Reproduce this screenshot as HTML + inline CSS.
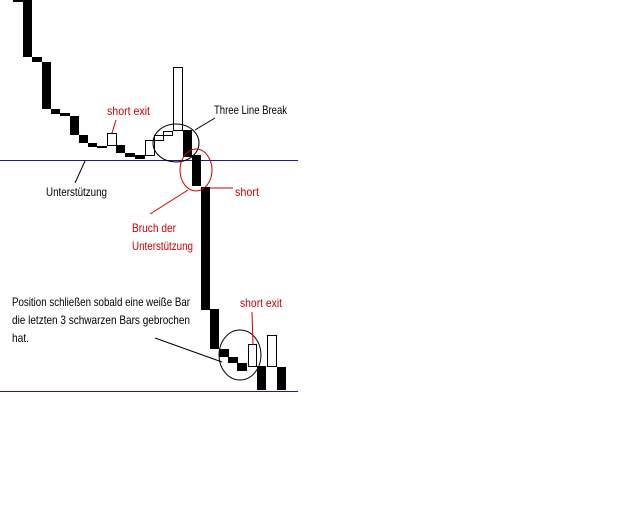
<!DOCTYPE html>
<html><head><style>html,body{margin:0;padding:0;background:#fff;width:640px;height:512px;overflow:hidden}</style></head>
<body>
<svg width="640" height="512" viewBox="0 0 640 512" xmlns="http://www.w3.org/2000/svg" font-family="Liberation Sans, sans-serif" font-size="12">
<rect width="640" height="512" fill="#fff"/>
<!-- support lines -->
<line x1="0" y1="160.5" x2="298" y2="160.5" stroke="#1a1a9a" stroke-width="1"/>
<line x1="0" y1="391.5" x2="298" y2="391.5" stroke="#1a1a9a" stroke-width="1"/>
<g fill="#000">
<rect x="13" y="0" width="10" height="2"/>
<rect x="23" y="0" width="9" height="57"/>
<rect x="32" y="57" width="10" height="5"/>
<rect x="42" y="62" width="9" height="47"/>
<rect x="51" y="109" width="9" height="5"/>
<rect x="60" y="113" width="10" height="3"/>
<rect x="70" y="116" width="9" height="19"/>
<rect x="79" y="135" width="9" height="8"/>
<rect x="88" y="143" width="9" height="4"/>
<rect x="97" y="146" width="10" height="2"/>
<rect x="116" y="145" width="9" height="8"/>
<rect x="125" y="153" width="10" height="4"/>
<rect x="135" y="155" width="10" height="4"/>
<rect x="183" y="130" width="9" height="27"/>
<rect x="192" y="155" width="9" height="31"/>
<rect x="201" y="187" width="9" height="123"/>
<rect x="210" y="309" width="9" height="40"/>
<rect x="219" y="349" width="10" height="8"/>
<rect x="228" y="357" width="10" height="6"/>
<rect x="237" y="363" width="10" height="8"/>
<rect x="257" y="366" width="9" height="24"/>
<rect x="277" y="367" width="9" height="23"/>
</g>
<g fill="#fff" stroke="#000" stroke-width="1">
<rect x="107.5" y="133.5" width="9" height="12"/>
<rect x="145.5" y="140.5" width="9" height="15"/>
<rect x="154.5" y="135.5" width="9" height="5"/>
<rect x="163.5" y="131.5" width="9" height="4"/>
<rect x="173.5" y="67.5" width="9" height="63"/>
<rect x="248.5" y="344.5" width="8" height="22"/>
<rect x="267.5" y="335.5" width="9" height="31"/>
</g>
<!-- ellipses -->
<ellipse cx="176" cy="143" rx="23" ry="19" fill="none" stroke="#000"/>
<ellipse cx="196" cy="170" rx="16" ry="21" fill="none" stroke="#c00"/>
<ellipse cx="240" cy="355" rx="21" ry="25" fill="none" stroke="#000"/>
<!-- leader lines -->
<g stroke="#000" fill="none">
<line x1="195" y1="130" x2="215" y2="118"/>
<line x1="85" y1="161" x2="75" y2="183"/>
<line x1="155" y1="338" x2="222" y2="362"/>
</g>
<g stroke="#c00" fill="none">
<line x1="116" y1="120" x2="112" y2="133"/>
<line x1="210" y1="188" x2="233" y2="188"/>
<line x1="188" y1="190" x2="150" y2="214"/>
<line x1="252" y1="312" x2="253" y2="345"/>
</g>
<!-- labels -->
<g fill="#c00">
<text x="107" y="115" textLength="43" lengthAdjust="spacingAndGlyphs">short exit</text>
<text x="235" y="196" textLength="24" lengthAdjust="spacingAndGlyphs">short</text>
<text x="132" y="232" textLength="44" lengthAdjust="spacingAndGlyphs">Bruch der</text>
<text x="132" y="250" textLength="61" lengthAdjust="spacingAndGlyphs">Unterstützung</text>
<text x="240" y="307" textLength="42" lengthAdjust="spacingAndGlyphs">short exit</text>
</g>
<g fill="#000">
<text x="214" y="114" textLength="73" lengthAdjust="spacingAndGlyphs">Three Line Break</text>
<text x="46" y="196" textLength="61" lengthAdjust="spacingAndGlyphs">Unterstützung</text>
<text x="12" y="306" textLength="178" lengthAdjust="spacingAndGlyphs">Position schließen sobald eine weiße Bar</text>
<text x="12" y="324" textLength="178" lengthAdjust="spacingAndGlyphs">die letzten 3 schwarzen Bars gebrochen</text>
<text x="12" y="342" textLength="17" lengthAdjust="spacingAndGlyphs">hat.</text>
</g>
</svg>
</body></html>
